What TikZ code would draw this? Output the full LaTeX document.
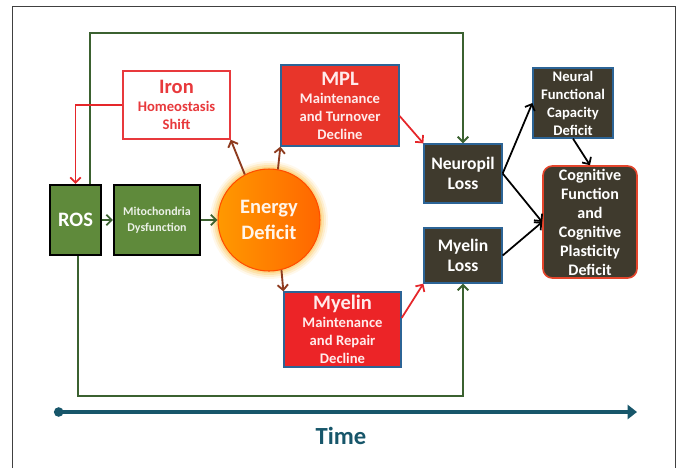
\documentclass[tikz,border=0pt]{standalone}
\usepackage{fontspec}
\setmainfont{Carlito}
\usetikzlibrary{arrows.meta,shapes.geometric}
\definecolor{rosgreen}{HTML}{5F8A3B}
\definecolor{linegreen}{HTML}{3B6130}
\definecolor{mplred}{HTML}{E8352A}
\definecolor{myelinred}{HTML}{EC2427}
\definecolor{ironred}{HTML}{E8393C}
\definecolor{brownfill}{HTML}{3F3A2D}
\definecolor{blueedge}{HTML}{2C6496}
\definecolor{timeteal}{HTML}{17566A}
\definecolor{arrowbrown}{HTML}{8E3B1F}
\definecolor{glowyellow}{HTML}{FBC75A}
\definecolor{cogedge}{HTML}{E4452C}
\definecolor{linered}{HTML}{E5262A}
\newcommand{\titlesize}{\fontsize{17.5}{20}\selectfont}
\tikzset{
    greenbox/.style={draw=black, line width=1.8pt, fill=rosgreen, text=white,
        font=\bfseries, align=center, inner sep=0pt},
    redbox/.style={draw=blueedge, line width=1.1pt, fill=mplred, text=white!92!red,
        font=\bfseries\fontsize{12.5}{15.4}\selectfont, align=center, inner sep=0pt},
    brownbox/.style={draw=blueedge, line width=1.1pt, fill=brownfill, text=white,
        font=\bfseries, align=center, inner sep=0pt},
    greenline/.style={draw=linegreen, line width=1.6pt},
    redline/.style={draw=linered, line width=1.5pt},
    brownline/.style={draw=arrowbrown, line width=1.6pt},
    blackline/.style={draw=black, line width=1.5pt}
}
\begin{document}
\begin{tikzpicture}[x=0.03cm,y=-0.03cm,>={Straight Barb[length=4.5pt,width=9pt]}]
\useasboundingbox (0,0) rectangle (681,468);
\draw[black!75, line width=0.8pt] (12,468)--(12,6)--(675,6)--(675,468);

% left column
\node[greenbox, minimum width=1.53cm, minimum height=2.1cm] (ros) at (75.5,220)
    {\fontsize{17.5}{20}\selectfont ROS};
\node[greenbox, minimum width=2.58cm, minimum height=2.1cm, text=white!88!rosgreen,
    font=\bfseries\fontsize{10.2}{13.4}\selectfont] (mito) at (157,220)
    {Mitochondria\\Dysfunction};
\node[draw=ironred, line width=1.2pt, fill=white, text=ironred, align=center,
    font=\bfseries\fontsize{12.5}{15.2}\selectfont, minimum width=3.21cm,
    minimum height=2.04cm, inner sep=0pt] (iron) at (176.5,105)
    {{\titlesize Iron}\\Homeostasis\\Shift};

% energy deficit with glow
\foreach \r/\op in {59/0.12,57/0.2,55/0.3,53/0.45}
{
    \fill[glowyellow, opacity=\op] (269,220) circle[radius=\r*0.03cm];
}
\node[circle, minimum size=3.06cm, draw=orange!60!red, line width=0.9pt,
    left color=orange!80!yellow, right color=orange!80!red, text=white!92!orange,
    font=\bfseries\fontsize{17.5}{22}\selectfont, align=center, inner sep=0pt]
    (energy) at (269,220) {Energy\\Deficit};

% middle column
\node[redbox, minimum width=3.54cm, minimum height=2.43cm] (mpl) at (340,105.5)
    {{\titlesize MPL}\\Maintenance\\and Turnover\\Decline};
\node[redbox, fill=myelinred, minimum width=3.51cm, minimum height=2.25cm]
    (myelinrep) at (342.5,329.5)
    {{\titlesize Myelin}\\Maintenance\\and Repair\\Decline};

% right columns
\node[brownbox, minimum width=2.34cm, minimum height=1.77cm,
    font=\bfseries\fontsize{15}{17}\selectfont] (neuropil) at (463,173.5)
    {Neuropil\\Loss};
\node[brownbox, minimum width=2.34cm, minimum height=1.65cm,
    font=\bfseries\fontsize{15}{17}\selectfont] (myelinloss) at (463,255.5)
    {Myelin\\Loss};
\node[brownbox, minimum width=2.4cm, minimum height=2.1cm,
    font=\bfseries\fontsize{12.5}{15.4}\selectfont] (neural) at (573,103)
    {Neural\\Functional\\Capacity\\Deficit};
\node[brownbox, draw=cogedge, line width=1.4pt, rounded corners=8pt,
    minimum width=2.82cm, minimum height=3.36cm,
    font=\bfseries\fontsize{13.7}{16.2}\selectfont] (cognitive) at (590,222)
    {Cognitive\\Function\\and\\Cognitive\\Plasticity\\Deficit};

% ROS feedback loops
\coordinate (topleft) at (90,33);
\coordinate (topright) at (463,33);
\coordinate (botleft) at (78,396);
\coordinate (botright) at (463,396);
\draw[greenline,->] (ros.north -| topleft)--(topleft)--(topright)--(neuropil.north);
\draw[greenline,->] (ros.south -| botleft)--(botleft)--(botright)--(myelinloss.south);
\draw[redline,->] (iron.west) -| (ros.north);

% main chain
\draw[greenline,->] (ros)--(mito);
\draw[greenline,->] (mito)--(energy);
\draw[brownline,->] (energy.118)--(iron.south east);
\draw[brownline,->] (energy.80)--(mpl.south west);
\draw[brownline,->] (energy.-76)--(myelinrep.north west);
\draw[redline,->] (mpl.-10)--(neuropil.north west);
\draw[redline,->] (myelinrep.11)--(myelinloss.south west);
\draw[blackline,->] (neuropil.east)--(neural.west);
\draw[blackline,->] (neuropil.east)--(cognitive.west);
\draw[blackline,->] (myelinloss.east)--(cognitive.west);
\draw[blackline,->] (neural.south)--(cognitive.north);

% time axis
\coordinate (tstart) at (54,412);
\coordinate (tend) at (637,412);
\draw[timeteal, line width=2.6pt, {Circle[length=8pt]}-{Triangle[length=8pt,width=12pt]}]
    (tstart)--(tend);
\node[text=timeteal, font=\bfseries\fontsize{21}{24}\selectfont] (time) at (341,436) {Time};
\end{tikzpicture}
\end{document}
